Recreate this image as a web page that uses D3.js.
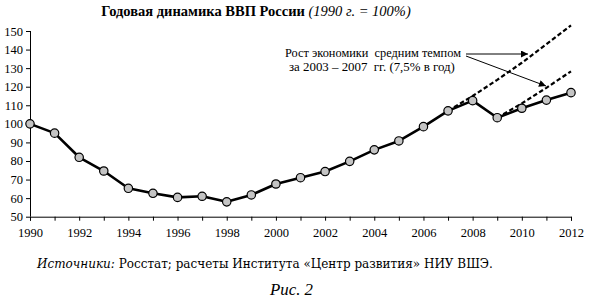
<!DOCTYPE html>
<html>
<head>
<meta charset="utf-8">
<script src="https://cdn.jsdelivr.net/npm/d3@7"></script>
<style>
  body { margin: 0; background: #fff; }
  text { font-family: "Liberation Serif", "DejaVu Serif", serif; fill: #000; }
</style>
</head>
<body>
<svg id="chart" width="590" height="302"></svg>
<script>
// data
var years = [1990, 1991, 1992, 1993, 1994, 1995, 1996, 1997, 1998, 1999, 2000, 2001,
             2002, 2003, 2004, 2005, 2006, 2007, 2008, 2009, 2010, 2011, 2012];
var gdp   = [100, 95, 82, 74.6, 65.3, 62.6, 60.4, 61, 58, 61.7, 67.6, 71,
             74.3, 79.8, 86, 90.8, 98.5, 107, 112.5, 103.3, 108.4, 112.8, 116.8];
// trend at 7.5% per year
var trend1Years = [2007, 2008, 2009, 2010, 2011, 2012];
var trend1 = [107, 115, 123.7, 132.9, 142.9, 153];
var trend2Years = [2009, 2010, 2011, 2012];
var trend2 = [103.3, 111, 119.4, 128.3];
var yTicks = [50, 60, 70, 80, 90, 100, 110, 120, 130, 140, 150];
var xTickLabels = [1990, 1992, 1994, 1996, 1998, 2000, 2002, 2004, 2006, 2008, 2010, 2012];

var svg = d3.select("#chart");
var x = d3.scaleLinear().domain([1990, 2012]).range([30, 571]);
var y = d3.scaleLinear().domain([50, 150]).range([216.7, 31]);

// scale font so the text spans the given width
function fit(sel, width) {
  var w = sel.node().getComputedTextLength();
  var fs = parseFloat(sel.style("font-size"));
  sel.style("font-size", (fs * width / w).toFixed(2) + "px");
  return sel;
}

// title
var title = svg.append("text")
  .attr("x", 256).attr("y", 16)
  .attr("text-anchor", "middle")
  .style("font-size", "14.5px");
title.append("tspan").style("font-weight", "bold").text("Годовая динамика ВВП России ");
title.append("tspan").style("font-style", "italic").text("(1990 г. = 100%)");

// axes
var yAxis = d3.axisLeft(y).tickValues(yTicks).tickSize(4).tickPadding(3);
var gy = svg.append("g").attr("transform", "translate(30,0)").call(yAxis);
var xAxis = d3.axisBottom(x).tickValues(years).tickSize(4)
  .tickFormat(function(d) { return xTickLabels.indexOf(d) >= 0 ? d : ""; })
  .tickPadding(7);
var gx = svg.append("g").attr("transform", "translate(0,216.7)").call(xAxis);
[gx, gy].forEach(function(g) {
  g.select(".domain").attr("stroke", "#000").attr("stroke-width", 1);
  g.selectAll(".tick line").attr("stroke", "#000");
  g.selectAll(".tick text").style("font-family", "'Liberation Serif', serif").style("font-size", "12.5px");
});
gy.selectAll(".domain").attr("d", "M0.5," + y(150) + "V" + y(50));

// trend lines
var line = d3.line().x(function(d) { return x(d[0]); }).y(function(d) { return y(d[1]); });
[[trend1Years, trend1], [trend2Years, trend2]].forEach(function(t) {
  svg.append("path")
    .attr("d", line(t[0].map(function(yr, i) { return [yr, t[1][i]]; })))
    .attr("fill", "none").attr("stroke", "#000")
    .attr("stroke-width", 2.2).attr("stroke-dasharray", "4.5,2.5");
});

// main series
var pts = years.map(function(yr, i) { return [yr, gdp[i]]; });
svg.append("path").attr("d", line(pts))
  .attr("fill", "none").attr("stroke", "#000").attr("stroke-width", 2.6)
  .attr("stroke-linejoin", "round");
svg.selectAll("circle.pt").data(pts).enter().append("circle")
  .attr("class", "pt")
  .attr("cx", function(d) { return x(d[0]); })
  .attr("cy", function(d) { return y(d[1]); })
  .attr("r", 4.2)
  .attr("fill", "#c4c4c4").attr("stroke", "#000").attr("stroke-width", 1.2);

// annotation
svg.append("defs").append("marker")
  .attr("id", "arr").attr("viewBox", "0 0 10 10")
  .attr("refX", 10).attr("refY", 5)
  .attr("markerWidth", 10).attr("markerHeight", 7)
  .attr("markerUnits", "userSpaceOnUse")
  .attr("orient", "auto")
  .append("path").attr("d", "M0,0L10,5L0,10z").attr("fill", "#000");

var a1 = svg.append("text").attr("x", 285).attr("y", 57)
  .style("font-size", "12px").attr("xml:space", "preserve")
  .text("Рост экономики  средним темпом");
fit(a1, 176);
var a2 = svg.append("text").attr("x", 289).attr("y", 71)
  .style("font-size", "12px").attr("xml:space", "preserve")
  .text("за 2003 – 2007  гг. (7,5% в год)");
fit(a2, 166);

svg.append("line").attr("x1", 466).attr("y1", 54).attr("x2", 528).attr("y2", 54)
  .attr("stroke", "#000").attr("stroke-width", 1).attr("marker-end", "url(#arr)");
svg.append("line").attr("x1", 466).attr("y1", 56).attr("x2", 546).attr("y2", 86)
  .attr("stroke", "#000").attr("stroke-width", 1).attr("marker-end", "url(#arr)");

// footer
var src = svg.append("text").attr("x", 37).attr("y", 268)
  .style("font-family", "'DejaVu Serif', serif").style("font-size", "12px");
src.append("tspan").style("font-style", "italic").text("Источники: ");
src.append("tspan").text("Росстат; расчеты Института «Центр развития» НИУ ВШЭ.");
fit(src, 456);
var fig = svg.append("text").attr("x", 270).attr("y", 295)
  .style("font-size", "15px").style("font-style", "italic").text("Рис. 2");
fit(fig, 43);
</script>
</body>
</html>
